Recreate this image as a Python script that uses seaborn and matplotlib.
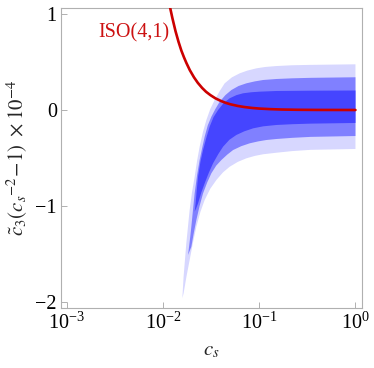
import matplotlib
matplotlib.use("Agg")
import matplotlib.pyplot as plt
import matplotlib.ticker as mticker
import pandas as pd
import seaborn as sns

# ---- data (x = c_s, y = c3~(c_s^-2 - 1) x 1e-4) ----
light_upper_cs = [0.01589, 0.01637, 0.01747, 0.01892, 0.0200, 0.02133, 0.0226, 0.02404, 0.0260, 0.02823, 0.0310,
                  0.03443, 0.0390, 0.04376, 0.0520, 0.06266, 0.075, 0.09352, 0.115, 0.1510, 0.22, 0.341, 1.0]
light_upper_y = [-1.961, -1.736, -1.389, -1.042, -0.86, -0.695, -0.53, -0.382, -0.23, -0.104, 0.01,
                 0.104, 0.20, 0.278, 0.34, 0.382, 0.41, 0.434, 0.448, 0.458, 0.466, 0.470, 0.476]
light_lower_cs = [0.01589, 0.01637, 0.0175, 0.01892, 0.0205, 0.02221, 0.0245, 0.0271, 0.031, 0.03587, 0.042,
                  0.04932, 0.060, 0.07359, 0.090, 0.1098, 0.1510, 0.22, 0.341, 1.0]
light_lower_y = [-1.961, -1.909, -1.74, -1.5625, -1.38, -1.216, -1.06, -0.9375, -0.82, -0.729, -0.65,
                 -0.591, -0.54, -0.503, -0.478, -0.461, -0.445, -0.428, -0.415, -0.406]

mid_upper_cs = [0.0182, 0.01866, 0.0192, 0.0197, 0.0205, 0.02133, 0.0226, 0.02404, 0.0256, 0.0271, 0.0292,
                0.03181, 0.035, 0.03881, 0.0445, 0.05138, 0.061, 0.07359, 0.090, 0.1098, 0.1510, 0.22, 0.341, 1.0]
mid_upper_y = [-1.510, -1.424, -1.32, -1.216, -1.04, -0.868, -0.68, -0.521, -0.39, -0.278, -0.16,
               -0.070, 0.01, 0.086, 0.155, 0.208, 0.25, 0.278, 0.298, 0.3125, 0.323, 0.330, 0.335, 0.341]
mid_lower_cs = [0.0182, 0.0189, 0.0197, 0.0209, 0.02221, 0.0240, 0.02608, 0.0288, 0.03181, 0.0357, 0.04043,
                0.0465, 0.05351, 0.065, 0.07963, 0.0975, 0.1188, 0.1510, 0.22, 0.341, 1.0]
mid_lower_y = [-1.510, -1.47, -1.424, -1.28, -1.146, -1.0, -0.868, -0.755, -0.659, -0.58, -0.521,
               -0.465, -0.417, -0.377, -0.347, -0.327, -0.3125, -0.302, -0.29, -0.280, -0.271]

dark_upper_cs = [0.02133, 0.02183, 0.0224, 0.02313, 0.0245, 0.02608, 0.0282, 0.03054, 0.0335, 0.03736, 0.0425,
                 0.04932, 0.058, 0.06798, 0.083, 0.1012, 0.1510, 0.341, 1.0]
dark_upper_y = [-1.059, -0.972, -0.84, -0.695, -0.54, -0.417, -0.29, -0.174, -0.075, 0.0, 0.07,
                0.122, 0.155, 0.174, 0.185, 0.191, 0.198, 0.201, 0.203]
dark_lower_cs = [0.02133, 0.0222, 0.02313, 0.0250, 0.0271, 0.0299, 0.03313, 0.0375, 0.04211, 0.049, 0.0579,
                 0.070, 0.08646, 0.110, 0.1510, 0.22, 0.341, 1.0]
dark_lower_y = [-1.059, -1.02, -0.972, -0.86, -0.764, -0.655, -0.555, -0.46, -0.382, -0.31, -0.26,
                -0.222, -0.191, -0.170, -0.156, -0.148, -0.142, -0.135]

iso_cs = [0.0116, 0.0125, 0.0135, 0.0145, 0.0155, 0.0165, 0.0175, 0.019, 0.021, 0.023, 0.0255, 0.028, 0.031,
          0.035, 0.040, 0.045, 0.050, 0.060, 0.070, 0.085, 0.10, 0.13, 0.17, 0.25, 0.40, 1.0]
iso_y = [1.11, 0.96, 0.82, 0.71, 0.62, 0.55, 0.49, 0.415, 0.34, 0.283, 0.23, 0.19, 0.156,
         0.122, 0.094, 0.074, 0.060, 0.042, 0.031, 0.021, 0.015, 0.009, 0.005, 0.0023, 0.0008, 0.0]

x_ticks = [1e-3, 1e-2, 1e-1, 1e0]
y_ticks = [-2, -1, 0, 1]
iso_label = "ISO(4,1)"

# ---- style ----
sns.set_style("white")
plt.rcParams["font.family"] = ["Liberation Serif", "DejaVu Serif"]
plt.rcParams["mathtext.fontset"] = "stix"
plt.rcParams["axes.unicode_minus"] = True

fig = plt.figure(figsize=(3.74, 3.68), dpi=100)
ax = fig.add_axes([61 / 374, 1 - 308 / 368, 301 / 374, 300 / 368])

bands = [
    (light_upper_cs, light_upper_y, light_lower_cs, light_lower_y, "#d7d7ff"),
    (mid_upper_cs, mid_upper_y, mid_lower_cs, mid_lower_y, "#8080ff"),
    (dark_upper_cs, dark_upper_y, dark_lower_cs, dark_lower_y, "#4545ff"),
]
for ucs, uy, lcs, ly, col in bands:
    xs = list(ucs) + list(lcs)[::-1]
    ys = list(uy) + list(ly)[::-1]
    ax.fill(xs, ys, color=col, lw=0, zorder=2)

df_iso = pd.DataFrame({"cs": iso_cs, "y": iso_y})
sns.lineplot(data=df_iso, x="cs", y="y", ax=ax, color="#cc0000", lw=1.9,
             estimator=None, zorder=4)

ax.set_xscale("log")
ax.set_xlim(10 ** -3.06, 10 ** 0.068)
ax.set_ylim(-2.0625, 1.0625)
ax.xaxis.set_major_locator(mticker.FixedLocator(x_ticks))
ax.xaxis.set_major_formatter(mticker.LogFormatterMathtext())
ax.xaxis.set_minor_locator(mticker.NullLocator())
ax.yaxis.set_major_locator(mticker.FixedLocator(y_ticks))

ax.text(0.00212, 0.80, iso_label, color="#cc1111", fontsize=14.5,
        ha="left", va="center", zorder=5)

ax.tick_params(axis="both", which="major", direction="in", length=4,
               width=0.7, color="#b0b0b0", labelsize=14.5, pad=3,
               labelcolor="black", bottom=True, left=True, top=False, right=False)
for s in ax.spines.values():
    s.set_color("#b0b0b0")
    s.set_linewidth(0.8)

ax.set_xlabel(r"$c_s$", fontsize=15, labelpad=6)
ax.set_ylabel(r"$\tilde{c}_3(c_s{}^{-2}\!-\!1)\ \times 10^{-4}$", fontsize=15, labelpad=4)

fig.savefig("out.png", dpi=100)
